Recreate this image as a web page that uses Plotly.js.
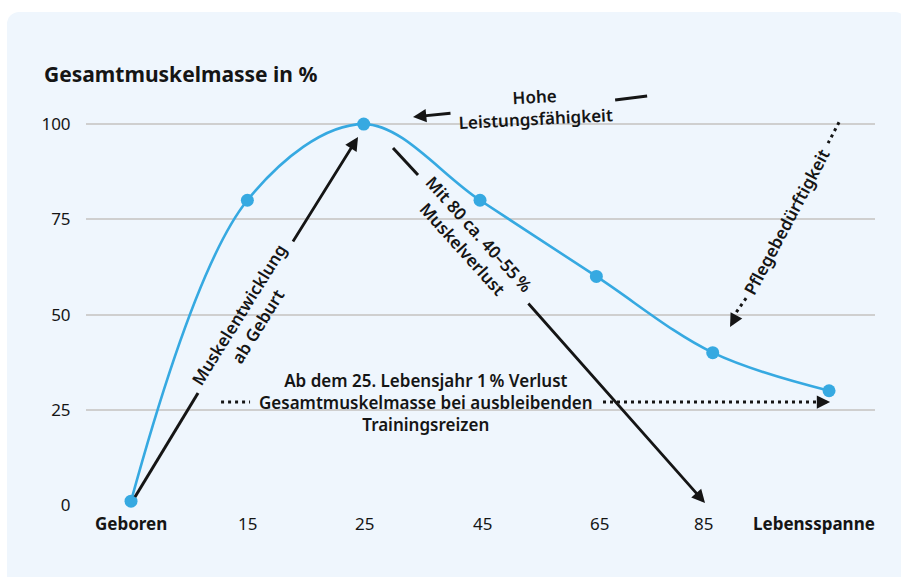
<!DOCTYPE html>
<html><head><meta charset="utf-8">
<script src="https://cdn.plot.ly/plotly-3.0.1.min.js"></script>
<style>
html,body{margin:0;padding:0;background:#fff;overflow:hidden;}
#panel{position:absolute;left:7px;top:12px;width:900px;height:580px;background:#eff6fd;border-radius:12px;}
#chart{position:absolute;left:0;top:0;width:901px;height:577px;}
</style></head><body>
<div id="panel"></div><div id="chart"></div>
<script>
// ---- data ----
const categories = ['Geboren', '15', '25', '45', '65', '85', 'Lebensspanne'];
const muscleMass = [1, 80, 100, 80, 60, 40, 30];
const yTickValues = [0, 25, 50, 75, 100];
const boldCategories = ['Geboren', 'Lebensspanne'];
const chartTitle = 'Gesamtmuskelmasse in %';

// ---- styles ----
const FONT = '"Noto Sans", "Open Sans", sans-serif';
const INK = '#151515';
const BLUE = '#36a9e1';
const labelShiftPx = [0, 0, 1, 2, 3, -9, -15];   // small horizontal offsets of the category labels

const trace = {
  x: categories,
  y: muscleMass,
  type: 'scatter',
  mode: 'lines+markers',
  line: {shape: 'spline', smoothing: 1, color: BLUE, width: 2.6},
  marker: {size: 13, color: BLUE},
  cliponaxis: false,
  hoverinfo: 'skip'
};

function seg(x0, y0, x1, y1, dash) {
  return {type: 'line', xref: 'x', yref: 'y', x0: x0, y0: y0, x1: x1, y1: y1,
          line: {color: INK, width: 3, dash: dash || 'solid'}, layer: 'above'};
}
function arrow(x, y, ax, ay, dataTail) {
  const a = {x: x, y: y, xref: 'x', yref: 'y', text: '', showarrow: true,
             arrowhead: 2, arrowsize: 0.95, arrowwidth: 2.8, arrowcolor: INK,
             standoff: 0, startstandoff: 0, ax: ax, ay: ay};
  if (dataTail) { a.axref = 'x'; a.ayref = 'y'; }
  return a;
}
function label(text, x, y, angle) {
  return {x: x, y: y, xref: 'x', yref: 'y', text: text, showarrow: false,
          textangle: angle, xanchor: 'center', yanchor: 'middle',
          font: {family: FONT, size: 17, color: INK, weight: 600}};
}

const DOT = '3px,4px';
const shapes = [
  seg(4.161, 106.3, 4.436, 107.35),            // Hohe Leistungsfähigkeit: right dash
  seg(0.034, 2.1, 0.576, 29.4),                // Muskelentwicklung: lower segment
  seg(2.252, 93.7, 2.467, 86.61),              // Mit 80: upper segment
  seg(6.086, 100.5, 5.992, 95.0, DOT),         // Pflegebedürftigkeit: top dots
  seg(5.287, 54.3, 5.175, 49.4, DOT),          // Pflegebedürftigkeit: bottom dots
  seg(0.774, 27.03, 1.023, 27.03, DOT),        // horizontal: left dots
  seg(4.057, 27.03, 5.93, 27.03, DOT)          // horizontal: right dots
];

const annotations = [
  arrow(2.424, 101.84, 2.759, 102.89, true),   // Hohe -> peak
  arrow(1.951, 96.59, 1.384, 68.77, true),     // Muskelentwicklung -> peak
  arrow(4.934, 0.52, 3.404, 53.28, true),      // Mit 80 -> 85
  arrow(5.149, 46.72, 6, -11, false),          // Pflege head
  arrow(6.009, 27.03, -12, 0, false),          // horizontal head
  label('Hohe<br>Leistungsfähigkeit', 3.475, 104.4, -3),
  label('Muskelentwicklung<br>ab Geburt', 1.006, 48.5, -58),
  label('Mit 80 ca. 40–55\u202F%<br>Muskelverlust', 2.923, 69.3, 48),
  label('Pflegebedürftigkeit', 5.639, 74.3, -62),
  label('Ab dem 25. Lebensjahr 1\u202F% Verlust<br>Gesamtmuskelmasse bei ausbleibenden<br>Trainingsreizen', 2.536, 27.03, 0)
];

// category labels along the x axis (placed at each category's index on the axis)
categories.forEach((c, i) => {
  annotations.push({
    x: i, y: 0, xref: 'x', yref: 'paper', yanchor: 'top', xanchor: 'center',
    yshift: -5, xshift: labelShiftPx[i], showarrow: false,
    text: boldCategories.includes(c) ? '<b>' + c + '</b>' : c,
    font: {family: FONT, size: 17, color: INK}
  });
});

const layout = {
  width: 901, height: 577,
  margin: {l: 86, r: 26, t: 86, b: 72, pad: 0},
  paper_bgcolor: 'rgba(0,0,0,0)',
  plot_bgcolor: 'rgba(0,0,0,0)',
  showlegend: false,
  hovermode: false,
  font: {family: FONT, color: INK},
  title: {text: '<b>' + chartTitle + '</b>', x: 44 / 901, xref: 'container', xanchor: 'left',
          y: 1 - 75 / 577, yref: 'container', yanchor: 'middle',
          font: {family: FONT, size: 21, color: INK}},
  xaxis: {
    type: 'category', range: [-0.387, 6.395],
    categoryorder: 'array', categoryarray: categories,
    showticklabels: false,
    showgrid: false, zeroline: false, showline: false, ticks: '', fixedrange: true
  },
  yaxis: {
    range: [0, 110], tickvals: yTickValues,
    showgrid: true, gridcolor: '#cfcfcf', gridwidth: 2,
    zeroline: false, showline: false,
    ticks: 'outside', ticklen: 11, tickcolor: 'rgba(0,0,0,0)',
    tickfont: {family: FONT, size: 17, color: INK}, fixedrange: true
  },
  shapes: shapes,
  annotations: annotations
};

Plotly.newPlot('chart', [trace], layout, {displayModeBar: false, staticPlot: true});
</script>
</body></html>
